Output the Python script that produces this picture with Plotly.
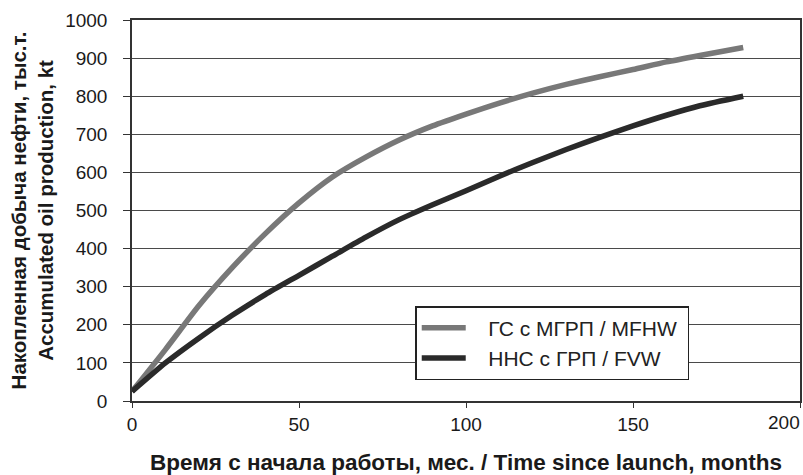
import plotly.graph_objects as go

months = [0, 10, 20, 30, 40, 50, 60, 70, 80, 90, 100, 110, 120, 130, 140, 150, 160, 170, 183]
oil_mfhw = [25, 135, 250, 350, 440, 520, 588, 640, 685, 722, 753, 782, 808, 831, 851, 870, 890, 907, 928]
oil_fvw = [25, 100, 165, 225, 280, 330, 380, 430, 476, 515, 552, 590, 626, 660, 692, 722, 750, 775, 800]

name_mfhw = "ГС с МГРП / MFHW"
name_fvw = "ННС с ГРП / FVW"

x_ticks = [0, 50, 100, 150, 200]
x_labels = ["0", "50", "100", "150", ""]
last_x_label = "200"
y_ticks = [0, 100, 200, 300, 400, 500, 600, 700, 800, 900, 1000]

NB = "\u00a0"

fig = go.Figure()
fig.add_trace(go.Scatter(x=months, y=oil_mfhw, mode="lines", name=NB * 3 + name_mfhw + NB,
                         line=dict(color="#787878", width=5.5, shape="spline", smoothing=0.6)))
fig.add_trace(go.Scatter(x=months, y=oil_fvw, mode="lines", name=NB * 3 + name_fvw + NB,
                         line=dict(color="#2a2a2a", width=5.5, shape="spline", smoothing=0.6)))

font = dict(family="Liberation Sans, Arial, sans-serif", size=19, color="#1a1a1a")

# last x tick label, right-aligned to the plot edge as in the reference
fig.add_annotation(x=x_ticks[-1], xref="x", y=0, yref="paper", text=last_x_label,
                   showarrow=False, xanchor="right", yanchor="top", xshift=2, yshift=-9,
                   font=dict(size=19, color="#1a1a1a"))

fig.update_layout(
    width=803, height=475,
    margin=dict(l=132, r=3, t=20, b=74),
    paper_bgcolor="white", plot_bgcolor="white",
    font=font,
    showlegend=True,
    legend=dict(x=0.424, y=0.249, xanchor="left", yanchor="top",
                bgcolor="white", bordercolor="#222", borderwidth=1.5, itemwidth=44,
                font=dict(size=21, color="#222")),
    xaxis=dict(range=[0, 200], tickvals=x_ticks, ticktext=x_labels, showgrid=False,
               automargin=False, showline=True, linecolor="#333", linewidth=1.5, mirror=True,
               ticks="outside", ticklen=5, tickcolor="#333", zeroline=False,
               title=dict(text="<b>Время с начала работы, мес. / Time since launch, months</b>",
                          font=dict(size=22.5), standoff=21)),
    yaxis=dict(range=[0, 1000], tickvals=y_ticks, showgrid=True, gridcolor="#4a4a4a",
               gridwidth=1.4, showline=True, linecolor="#333", linewidth=1.5, mirror=True,
               automargin=False, ticklabelstandoff=12,
               ticks="outside", ticklen=7, tickcolor="#333", zeroline=False,
               title=dict(text="<b>Накопленная добыча нефти, тыс.т.<br>Accumulated oil production, kt</b>",
                          font=dict(size=20.5), standoff=6)),
)

fig.write_html("out.html", config={"displayModeBar": False},
               post_script="document.body.style.margin='0';document.body.style.overflow='hidden';")
